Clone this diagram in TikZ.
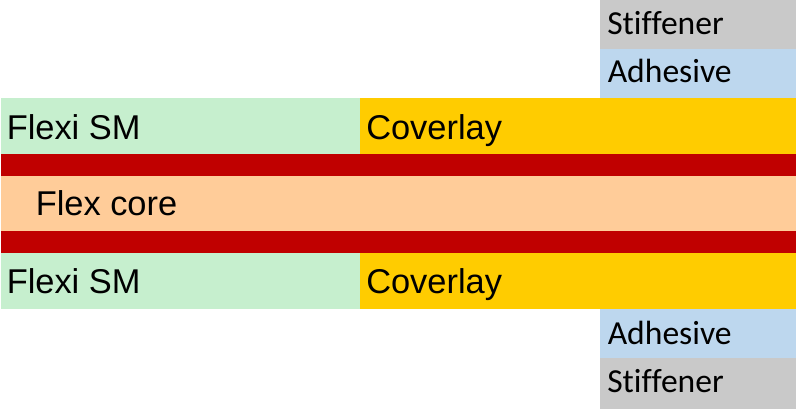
\documentclass[tikz,border=0pt]{standalone}
\usepackage{fontspec}
\setmainfont{Liberation Sans}
\newfontfamily\calfont[Ligatures=NoCommon]{Carlito}
\definecolor{stiffgray}{HTML}{C9C9C9}
\definecolor{adhblue}{HTML}{BDD7EE}
\definecolor{smgreen}{HTML}{C6EFCE}
\definecolor{covyellow}{HTML}{FFCC00}
\definecolor{cured}{HTML}{C00000}
\definecolor{corepeach}{HTML}{FFCC99}
\tikzstyle{every node}=[inner sep=0pt,anchor=base west]
\tikzstyle{arial}=[font=\fontsize{25.8}{30}\selectfont]
\tikzstyle{calibri}=[font=\calfont\fontsize{25.2}{30}\selectfont]

\begin{document}
\begin{tikzpicture}[x=0.75pt, y=-0.75pt]
	\useasboundingbox (0,0) rectangle (796,409);
	% stiffener and adhesive, top side
	\fill[stiffgray] (600,0) rectangle (796,49);
	\fill[adhblue] (600,49) rectangle (796,98);
	% outer layers, top side
	\fill[smgreen] (1,98) rectangle (360,154);
	\fill[covyellow] (360,98) rectangle (796,154);
	% copper, core, copper
	\fill[cured] (1,154) rectangle (796,176);
	\fill[corepeach] (1,176) rectangle (796,231);
	\fill[cured] (1,231) rectangle (796,253);
	% outer layers, bottom side
	\fill[smgreen] (1,253) rectangle (360,309);
	\fill[covyellow] (360,253) rectangle (796,309);
	% adhesive and stiffener, bottom side
	\fill[adhblue] (600,309) rectangle (796,358);
	\fill[stiffgray] (600,358) rectangle (796,409);

	\node[calibri] (stiffT) at (607,35) {Stiffener};
	\node[calibri] (adhT) at (607.5,83) {Adhesive};
	\node[arial] (smT) at (6.5,140) {Flexi SM};
	\node[arial] (covT) at (366,140) {Coverlay};
	\node[arial] (core) at (35.5,216) {Flex core};
	\node[arial] (smB) at (6.5,294) {Flexi SM};
	\node[arial] (covB) at (366,294) {Coverlay};
	\node[calibri] (adhB) at (607.5,345) {Adhesive};
	\node[calibri] (stiffB) at (607,393) {Stiffener};
\end{tikzpicture}
\end{document}
